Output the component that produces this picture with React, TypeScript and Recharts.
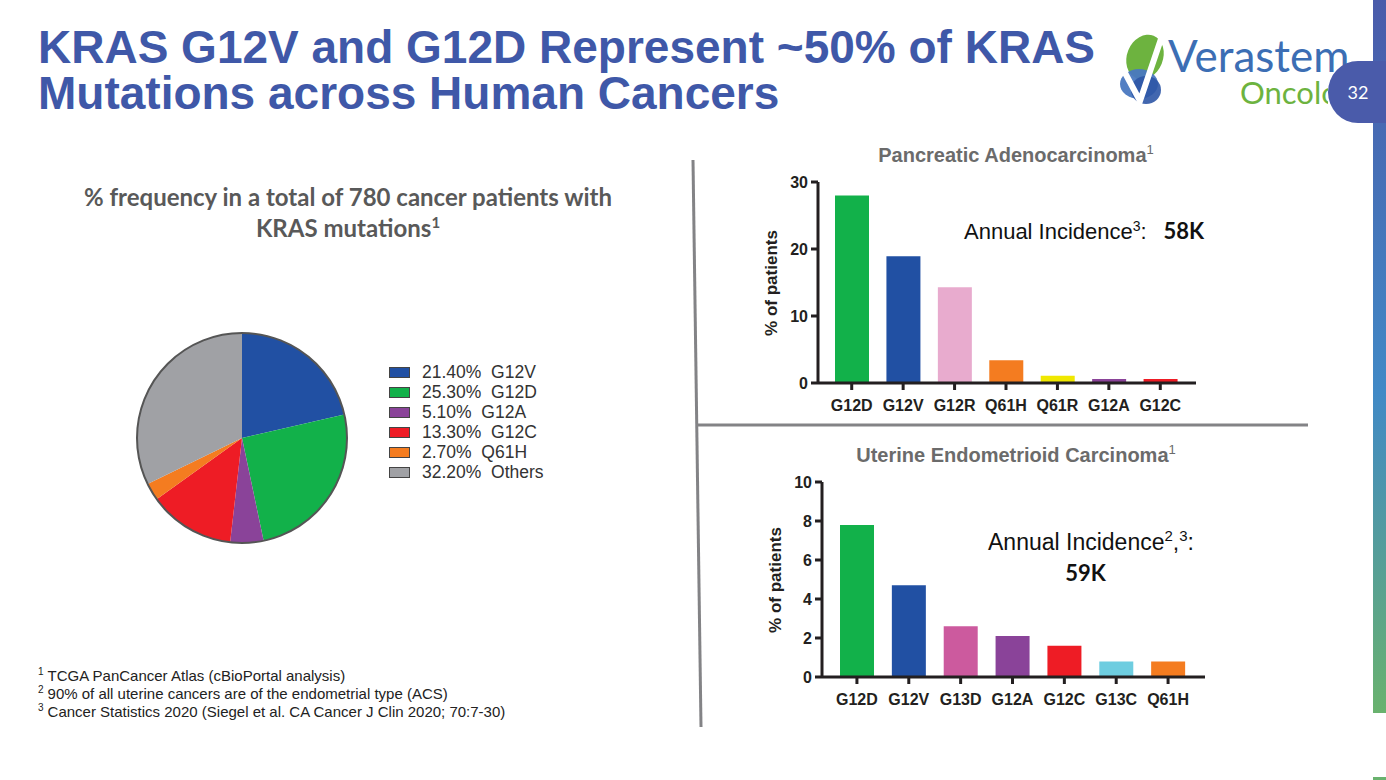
import React from "react";
import { BarChart, Bar, Cell, XAxis, YAxis, PieChart, Pie } from "recharts";

// ─── data ────────────────────────────────────────────────────────────────────

const pieNames = ["G12V", "G12D", "G12A", "G12C", "Q61H", "Others"];
const pieValues = [21.4, 25.3, 5.1, 13.3, 2.7, 32.2];
const pieColors = ["#2150A3", "#12B14A", "#8A4399", "#EE1C25", "#F47C20", "#A0A1A5"];

const pancCategories = ["G12D", "G12V", "G12R", "Q61H", "Q61R", "G12A", "G12C"];
const pancValues = [28, 18.9, 14.3, 3.4, 1.1, 0.6, 0.6];
const pancColors = ["#12B14A", "#2150A3", "#E8ABCE", "#F47C20", "#F0E800", "#8A4399", "#EE1C25"];
const pancTicks = [0, 10, 20, 30];

const uterCategories = ["G12D", "G12V", "G13D", "G12A", "G12C", "G13C", "Q61H"];
const uterValues = [7.8, 4.7, 2.6, 2.1, 1.6, 0.8, 0.8];
const uterColors = ["#12B14A", "#2150A3", "#CC5A9E", "#8A4399", "#EE1C25", "#6ECDE0", "#F47C20"];
const uterTicks = [0, 2, 4, 6, 8, 10];

const footnotes = [
  "TCGA PanCancer Atlas (cBioPortal analysis)",
  "90% of all uterine cancers are of the endometrial type (ACS)",
  "Cancer Statistics 2020 (Siegel et al. CA Cancer J Clin 2020; 70:7-30)",
];

// ─── styles ──────────────────────────────────────────────────────────────────

const ARIAL = "'Liberation Sans', Arial, sans-serif";
const CALIBRI = "Lato, 'Open Sans', sans-serif";
const AXIS_INK = "#231F20";
const TICK = { fontSize: 16, fontWeight: 700, fill: AXIS_INK, fontFamily: ARIAL };

const abs = (left: number, top: number, extra: React.CSSProperties = {}): React.CSSProperties => ({
  position: "absolute",
  left,
  top,
  ...extra,
});

function MutationBars({
  categories,
  values,
  colors,
  ticks,
  width,
  height,
  margin,
  yWidth,
  padding,
}: {
  categories: string[];
  values: number[];
  colors: string[];
  ticks: number[];
  width: number;
  height: number;
  margin: { top: number; right: number; bottom: number; left: number };
  yWidth: number;
  padding: { left: number; right: number };
}) {
  const data = categories.map((name, i) => ({ name, value: values[i] }));
  return (
    <BarChart width={width} height={height} data={data} margin={margin}>
      <XAxis
        dataKey="name"
        height={34}
        padding={padding}
        interval={0}
        axisLine={{ stroke: AXIS_INK, strokeWidth: 3 }}
        tickLine={{ stroke: AXIS_INK, strokeWidth: 3 }}
        tickSize={7}
        tickMargin={10}
        tick={TICK}
      />
      <YAxis
        width={yWidth}
        domain={[0, ticks[ticks.length - 1]]}
        ticks={ticks}
        interval={0}
        axisLine={{ stroke: AXIS_INK, strokeWidth: 3 }}
        tickLine={{ stroke: AXIS_INK, strokeWidth: 3 }}
        tickSize={7}
        tickMargin={3}
        tick={TICK}
      />
      <Bar dataKey="value" barSize={34} isAnimationActive={false}>
        {data.map((d, i) => (
          <Cell key={d.name} fill={colors[i]} />
        ))}
      </Bar>
    </BarChart>
  );
}

function Logo() {
  return (
    <svg style={abs(1110, 26)} width={276} height={100}>
      <defs>
        <clipPath id="tabClip">
          <rect x={0} y={0} width={218} height={100} />
        </clipPath>
      </defs>
      <ellipse cx={35} cy={31} rx={18} ry={23} transform="rotate(22 35 31)" fill="#6DB33F" />
      <ellipse cx={29} cy={58} rx={19} ry={15} fill="#4A78C0" opacity={0.95} />
      <ellipse cx={36} cy={64} rx={15} ry={14} fill="#2E56A6" opacity={0.9} />
      <polyline points="14,45 30,75 52,10" fill="none" stroke="#fff" strokeWidth={6} strokeLinejoin="miter" />
      <text x={58} y={46} fontFamily={CALIBRI} fontSize={44} fill="#3C6EB4">
        Verastem
      </text>
      <g clipPath="url(#tabClip)">
        <text x={130} y={78} fontFamily={CALIBRI} fontSize={31} fill="#6DB33F">
          Oncology
        </text>
      </g>
    </svg>
  );
}

export default function App() {
  const pieData = pieNames.map((name, i) => ({ name, value: pieValues[i] }));
  return (
    <div style={{ position: "relative", width: 1386, height: 780, background: "#fff", overflow: "hidden" }}>
      <style>{`body{margin:0}`}</style>

      {/* title */}
      <div
        style={abs(38, 24, {
          fontFamily: ARIAL,
          fontWeight: 700,
          fontSize: 46,
          lineHeight: "46px",
          color: "#3F58A8",
          whiteSpace: "nowrap",
        })}
      >
        KRAS G12V and G12D Represent ~50% of KRAS
        <br />
        Mutations across Human Cancers
      </div>

      <Logo />

      {/* side bar and page tab */}
      <svg style={abs(1320, 0)} width={66} height={780}>
        <defs>
          <linearGradient id="sideGrad" x1="0" y1="0" x2="0" y2="1">
            <stop offset="0%" stopColor="#4A5BAA" />
            <stop offset="55%" stopColor="#4189C6" />
            <stop offset="100%" stopColor="#69B26E" />
          </linearGradient>
        </defs>
        <rect x={53} y={0} width={13} height={713} fill="url(#sideGrad)" />
        <rect x={53} y={777} width={13} height={3} fill="#69B26E" />
        <path d="M66,61 L38,61 A30,31 0 0 0 8,92 A30,31 0 0 0 38,123 L66,123 Z" fill="#4A5BAA" />
        <text x={38} y={99} textAnchor="middle" fontFamily={CALIBRI} fontSize={18} fill="#fff">
          32
        </text>
      </svg>

      {/* dividers */}
      <svg style={abs(0, 0)} width={1386} height={780}>
        <line x1={693} y1={160} x2={701} y2={727} stroke="#838386" strokeWidth={3} />
        <line x1={697} y1={425} x2={1308} y2={425} stroke="#838386" strokeWidth={3} />
      </svg>

      {/* left subtitle */}
      <div
        style={abs(48, 181, {
          width: 600,
          textAlign: "center",
          fontFamily: CALIBRI,
          fontWeight: 700,
          fontSize: 24,
          lineHeight: "31px",
          color: "#595959",
        })}
      >
        % frequency in a total of 780 cancer patients with
        <br />
        KRAS mutations<sup style={{ fontSize: 15, lineHeight: 0 }}>1</sup>
      </div>

      {/* pie */}
      <div style={abs(125, 321)}>
        <PieChart width={240} height={240}>
          <Pie
            data={pieData}
            dataKey="value"
            cx={112}
            cy={112}
            outerRadius={105}
            startAngle={90}
            endAngle={-270}
            stroke="none"
            isAnimationActive={false}
          >
            {pieData.map((d, i) => (
              <Cell key={d.name} fill={pieColors[i]} />
            ))}
          </Pie>
        </PieChart>
      </div>
      <svg style={abs(130, 326, { pointerEvents: "none" })} width={230} height={230}>
        <circle cx={112} cy={112} r={105} fill="none" stroke="#555" strokeWidth={2} />
      </svg>

      {/* pie legend */}
      <div style={abs(389, 362)}>
        {pieData.map((d, i) => (
          <div key={d.name} style={{ display: "flex", alignItems: "center", height: 20 }}>
            <div
              style={{
                width: 19,
                height: 9,
                background: pieColors[i],
                border: "1.5px solid #444",
                marginRight: 12,
              }}
            />
            <span style={{ fontFamily: ARIAL, fontSize: 17.5, color: "#333", whiteSpace: "pre" }}>
              {`${d.value.toFixed(2)}%  ${d.name}`}
            </span>
          </div>
        ))}
      </div>

      {/* footnotes */}
      <div style={abs(38, 667, { fontFamily: ARIAL, fontSize: 15, lineHeight: "18px", color: "#222" })}>
        {footnotes.map((t, i) => (
          <div key={i}>
            <sup style={{ fontSize: 10, lineHeight: 0, marginRight: 4 }}>{i + 1}</sup>
            {t}
          </div>
        ))}
      </div>

      {/* pancreatic */}
      <div style={abs(760, 144, { width: 512, textAlign: "center", fontFamily: ARIAL, fontWeight: 700, fontSize: 20, color: "#6B6B6B" })}>
        Pancreatic Adenocarcinoma<sup style={{ fontSize: 13, fontWeight: 400, lineHeight: 0 }}>1</sup>
      </div>
      <div style={abs(760, 170)}>
        <MutationBars
          categories={pancCategories}
          values={pancValues}
          colors={pancColors}
          ticks={pancTicks}
          width={450}
          height={260}
          margin={{ top: 12, right: 14, bottom: 13, left: 0 }}
          yWidth={58}
          padding={{ left: 8, right: 10 }}
        />
      </div>
      <div
        style={abs(772, 283, {
          transform: "translate(-50%, -50%) rotate(-90deg)",
          fontFamily: ARIAL,
          fontWeight: 700,
          fontSize: 17,
          color: AXIS_INK,
          whiteSpace: "nowrap",
        })}
      >
        % of patients
      </div>
      <div style={abs(964, 217, { fontFamily: ARIAL, fontSize: 22, color: "#111", whiteSpace: "nowrap" })}>
        Annual Incidence<sup style={{ fontSize: 14, lineHeight: 0 }}>3</sup>:{"  "}
        <span style={{ fontFamily: CALIBRI, fontWeight: 700, fontSize: 22 }}>&nbsp;&nbsp;58K</span>
      </div>

      {/* uterine */}
      <div style={abs(760, 444, { width: 512, textAlign: "center", fontFamily: ARIAL, fontWeight: 700, fontSize: 20, color: "#6B6B6B" })}>
        Uterine Endometrioid Carcinoma<sup style={{ fontSize: 13, fontWeight: 400, lineHeight: 0 }}>1</sup>
      </div>
      <div style={abs(760, 470)}>
        <MutationBars
          categories={uterCategories}
          values={uterValues}
          colors={uterColors}
          ticks={uterTicks}
          width={460}
          height={260}
          margin={{ top: 12, right: 15, bottom: 19, left: 0 }}
          yWidth={62}
          padding={{ left: 9, right: 11 }}
        />
      </div>
      <div
        style={abs(776, 580, {
          transform: "translate(-50%, -50%) rotate(-90deg)",
          fontFamily: ARIAL,
          fontWeight: 700,
          fontSize: 17,
          color: AXIS_INK,
          whiteSpace: "nowrap",
        })}
      >
        % of patients
      </div>
      <div style={abs(988, 529, { width: 240, fontFamily: ARIAL, fontSize: 23, color: "#111", whiteSpace: "nowrap" })}>
        Annual Incidence<sup style={{ fontSize: 15, lineHeight: 0 }}>2</sup>,<sup style={{ fontSize: 15, lineHeight: 0 }}>3</sup>:
      </div>
      <div style={abs(988, 559, { width: 195, textAlign: "center", fontFamily: CALIBRI, fontWeight: 700, fontSize: 22, color: "#111" })}>
        59K
      </div>
    </div>
  );
}
